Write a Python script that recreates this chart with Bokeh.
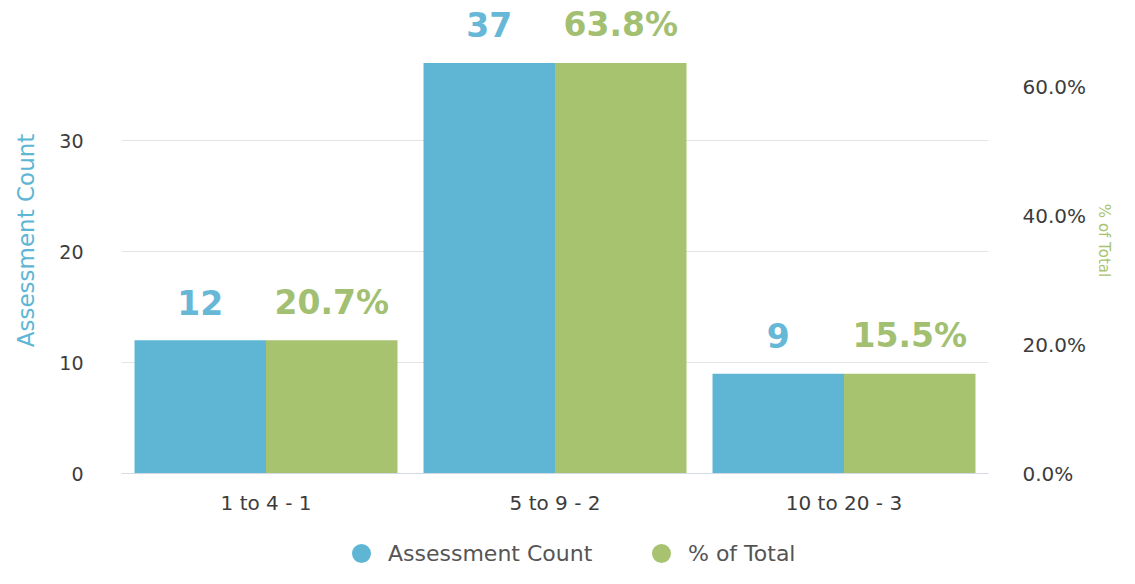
from bokeh.plotting import figure
from bokeh.layouts import column
from bokeh.models import (ColumnDataSource, FactorRange, Range1d, LinearAxis, FixedTicker,
                          PrintfTickFormatter, Legend, LegendItem)
from bokeh.transform import dodge
from bokeh.core.properties import value
from bokeh.embed import file_html
from bokeh.resources import INLINE

# ---- data ----
categories = ["1 to 4 - 1", "5 to 9 - 2", "10 to 20 - 3"]
assessment_count = [12, 37, 9]
pct_of_total = [20.7, 63.8, 15.5]
count_ticks = [0, 10, 20, 30]
pct_ticks = [0, 20, 40, 60]
series_names = ["Assessment Count", "% of Total"]

BLUE = "#5eb6d4"
GREEN = "#a7c370"
BLUE_TXT = "#66b8d6"
GREEN_TXT = "#a2bf72"
FONT = "DejaVu Sans"

total = sum(assessment_count)
y_end = 42
src = ColumnDataSource(dict(
    cat=categories,
    cnt=assessment_count,
    pct=pct_of_total,
    cnt_lbl=[str(v) for v in assessment_count],
    pct_lbl=["%.1f%%" % v for v in pct_of_total],
))

W = 1119
p = figure(width=W, height=520, output_backend="svg", toolbar_location=None,
           x_range=FactorRange(*categories, range_padding=0),
           y_range=Range1d(0, y_end),
           min_border_left=121, min_border_right=131, min_border_bottom=47, min_border_top=7)
p.extra_y_ranges = {"pct": Range1d(0, y_end * 100.0 / total)}
p.outline_line_color = None
p.background_fill_color = "white"

bw = 0.455
p.vbar(x=dodge("cat", -bw / 2, range=p.x_range), top="cnt", width=bw, source=src,
       fill_color=BLUE, line_color=None)
p.vbar(x=dodge("cat", bw / 2, range=p.x_range), top="pct", width=bw, source=src,
       fill_color=GREEN, line_color=None, y_range_name="pct")

p.text(x=dodge("cat", -bw / 2, range=p.x_range), y="cnt", text="cnt_lbl", source=src,
       text_align="center", text_baseline="alphabetic", y_offset=-38,
       text_font=value(FONT), text_font_style="bold", text_font_size="33px", text_color=BLUE_TXT)
p.text(x=dodge("cat", bw / 2, range=p.x_range), y="pct", text="pct_lbl", source=src,
       text_align="center", text_baseline="alphabetic", y_offset=-38, y_range_name="pct",
       text_font=value(FONT), text_font_style="bold", text_font_size="33px", text_color=GREEN_TXT)

# axes
p.yaxis.ticker = FixedTicker(ticks=count_ticks)
p.yaxis.axis_label = series_names[0]
p.yaxis.axis_label_text_color = BLUE
p.yaxis.axis_label_text_font = FONT
p.yaxis.axis_label_text_font_style = "normal"
p.yaxis.axis_label_text_font_size = "23px"
p.yaxis.axis_label_standoff = 17
p.yaxis.major_label_text_font = FONT
p.yaxis.major_label_text_font_size = "19px"
p.yaxis.major_label_text_color = "#3c3c3c"
p.yaxis.major_label_standoff = 32
p.yaxis.axis_line_color = None
p.yaxis.major_tick_line_color = None
p.yaxis.minor_tick_line_color = None

ax2 = LinearAxis(y_range_name="pct", ticker=FixedTicker(ticks=pct_ticks),
                 formatter=PrintfTickFormatter(format="%.1f%%"),
                 axis_label=series_names[1])
ax2.axis_label_text_color = GREEN
ax2.axis_label_text_font = FONT
ax2.axis_label_text_font_style = "normal"
ax2.axis_label_text_font_size = "15px"
ax2.axis_label_standoff = 6
ax2.major_label_text_font = FONT
ax2.major_label_text_font_size = "20px"
ax2.major_label_text_color = "#3c3c3c"
ax2.major_label_standoff = 28
ax2.axis_line_color = None
ax2.major_tick_line_color = None
ax2.minor_tick_line_color = None
p.add_layout(ax2, "right")

p.xaxis.major_label_text_font = FONT
p.xaxis.major_label_text_font_size = "20px"
p.xaxis.major_label_text_color = "#3c3c3c"
p.xaxis.major_label_standoff = 11
p.xaxis.axis_line_color = "#d5d9e3"
p.xaxis.major_tick_line_color = None
p.xaxis.minor_tick_line_color = None

p.xgrid.grid_line_color = None
p.ygrid.grid_line_color = "#e4e4e4"

# legend strip (separate small figure under the chart); the legend renderers
# reuse the data source but lie outside this strip's ranges, so only the
# legend swatches are visible
lf = figure(width=W, height=48, output_backend="svg", toolbar_location=None,
            x_range=Range1d(0, 1), y_range=Range1d(0, 1),
            x_axis_location=None, y_axis_location=None,
            min_border_left=0, min_border_right=0, min_border_top=0, min_border_bottom=0)
lf.outline_line_color = None
lf.grid.grid_line_color = None
colors = [BLUE, GREEN]
xlocs = [225, 525]
for name, col, xl in zip(series_names, colors, xlocs):
    d = lf.scatter(x="cnt", y="cnt", source=src, size=0, marker="circle",
                   fill_color=col, line_color=col, line_width=7)
    lg = Legend(items=[LegendItem(label=name, renderers=[d])], location=(xl, 0),
                orientation="horizontal", glyph_width=30, glyph_height=30, padding=0, margin=0,
                label_standoff=12, border_line_color=None, background_fill_alpha=0,
                label_text_font=FONT, label_text_font_size="22px", label_text_color="#555555")
    lf.add_layout(lg, "center")

layout = column(p, lf, spacing=0)
open("out.html", "w").write(file_html(layout, INLINE))
